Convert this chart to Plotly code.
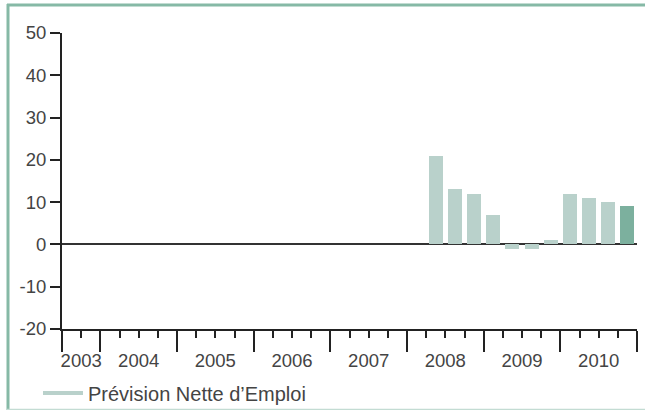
import plotly.graph_objects as go

# ---- data ----
quarters = ["2008 T2", "2008 T3", "2008 T4", "2009 T1", "2009 T2", "2009 T3",
            "2009 T4", "2010 T1", "2010 T2", "2010 T3", "2010 T4"]
values = [21, 13, 12, 7, -1, -1, 1, 12, 11, 10, 9]
year_labels = ["2003", "2004", "2005", "2006", "2007", "2008", "2009", "2010"]
year_quarters = [2, 4, 4, 4, 4, 4, 4, 4]   # quarters shown per year (2003 starts at T3)
first_quarter = (2003, 3)
y_ticks = [-20, -10, 0, 10, 20, 30, 40, 50]
y_tick_labels = ["-20", "-10", "0", "10", "20", "30", "40", "50"]
legend_label = "Prévision Nette d’Emploi"

# ---- derived positions (quarter index axis) ----
def q_index(label):
    y, q = label.split(" T")
    return (int(y) - first_quarter[0]) * 4 + (int(q) - first_quarter[1])

bar_x = [q_index(q) + 0.5 for q in quarters]
bounds = [0]
for n in year_quarters:
    bounds.append(bounds[-1] + n)
year_centers = [(bounds[i] + bounds[i + 1]) / 2 for i in range(len(year_labels))]
total_q = bounds[-1]

light = "#b9d1cb"
dark = "#7cb09e"
colors = [light] * (len(values) - 1) + [dark]

FONT = "Liberation Sans, Arial, sans-serif"
TXT = "#444444"
AX = "#222222"

fig = go.Figure()
fig.add_trace(go.Bar(x=bar_x, y=values, width=0.73, marker=dict(color=colors, line=dict(width=0)),
                     showlegend=False, hoverinfo="y"))
fig.add_trace(go.Scatter(x=[None], y=[None], mode="lines", name=legend_label,
                         line=dict(color=light, width=4), showlegend=True))
# invisible trace on label axis
fig.add_trace(go.Scatter(x=[None], y=[None], xaxis="x2", showlegend=False))

W, H = 645, 410
L, R, T, B = 62, 8, 33, 81
pw, ph = W - L - R, H - T - B

def px(x):
    return (x - L) / pw

def py(y):
    return (H - B - y) / ph

fig.update_layout(
    width=W, height=H,
    margin=dict(l=L, r=R, t=T, b=B, pad=0, autoexpand=False),
    paper_bgcolor="white", plot_bgcolor="white",
    font=dict(family=FONT, size=18.5, color=TXT),
    bargap=0,
    xaxis=dict(range=[0, total_q], showgrid=False, zeroline=False,
               showline=True, linecolor=AX, linewidth=2,
               tickmode="array", tickvals=bounds, showticklabels=False,
               ticks="outside", ticklen=21, tickwidth=2, tickcolor=AX,
               minor=dict(tickmode="array", tickvals=list(range(1, total_q)),
                          ticks="outside", ticklen=7, tickwidth=2, tickcolor=AX),
               fixedrange=True),
    xaxis2=dict(range=[0, total_q], overlaying="x", side="bottom", showgrid=False,
                zeroline=False, showline=False,
                tickmode="array", tickvals=year_centers, ticktext=year_labels,
                ticks="outside", ticklen=15, tickcolor="rgba(0,0,0,0)",
                tickfont=dict(family=FONT, size=18.5, color=TXT)),
    yaxis=dict(range=[-20, 50], tickmode="array", tickvals=y_ticks, ticktext=y_tick_labels,
               showgrid=False, showline=True, linecolor=AX, linewidth=2,
               ticks="outside", ticklen=10, tickwidth=2, tickcolor=AX,
               zeroline=True, zerolinecolor="#333333", zerolinewidth=2,
               tickfont=dict(family=FONT, size=18.5, color=TXT)),
    legend=dict(x=px(38), y=py(393), xanchor="left", yanchor="middle",
                bgcolor="rgba(0,0,0,0)", font=dict(family=FONT, size=20, color=TXT),
                itemwidth=40),
    shapes=[
        dict(type="line", xref="paper", yref="paper", x0=px(8), x1=px(8), y0=py(4), y1=py(410),
             line=dict(color="#86b9a6", width=3)),
        dict(type="line", xref="paper", yref="paper", x0=px(7), x1=px(650), y0=py(5), y1=py(5),
             line=dict(color="#86b9a6", width=3)),
        dict(type="line", xref="paper", yref="paper", x0=px(7), x1=px(650), y0=py(409.5), y1=py(409.5),
             line=dict(color="#c3dcd3", width=1.5)),
    ],
)

fig.write_html("out.html", config={"displayModeBar": False},
               post_script="document.body.style.margin='0';document.body.style.overflow='hidden';")
